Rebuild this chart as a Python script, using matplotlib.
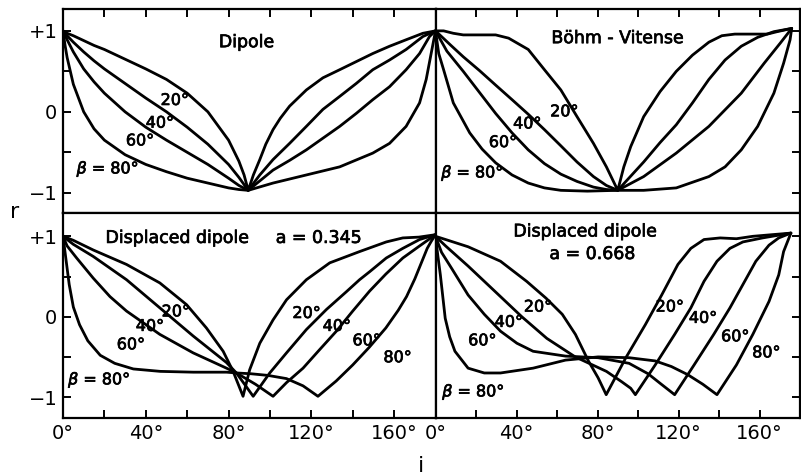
import matplotlib
matplotlib.use("Agg")
import matplotlib.pyplot as plt
import matplotlib.patheffects as pe

# -------------------------------------------------------
# values (i in degrees, r)
# -------------------------------------------------------

# Dipole
dip20_i = [0, 2, 5, 10, 15, 20, 30, 40, 50, 60, 70, 80, 85, 87.5, 89.5,
           92, 95.1, 98, 101.5, 105, 109.5, 117.6, 125.6, 133.7, 141.7, 149.7, 157.8, 165.8, 173.9, 180]
dip20_r = [1, 0.97, 0.94, 0.88, 0.82, 0.77, 0.65, 0.53, 0.40, 0.23, 0.0, -0.35, -0.61, -0.78, -0.97,
           -0.78, -0.59, -0.40, -0.22, -0.08, 0.07, 0.27, 0.42, 0.52, 0.62, 0.72, 0.81, 0.89, 0.97, 1.0]
dip40_i = [0, 2, 5, 10, 15, 20, 30, 40, 50, 60, 70, 80, 85, 89.5,
           95.1, 101.5, 109.5, 117.6, 125.6, 133.7, 141.7, 149.7, 157.8, 165.8, 173.9, 180]
dip40_r = [1, 0.94, 0.86, 0.74, 0.63, 0.53, 0.35, 0.17, 0.0, -0.19, -0.40, -0.65, -0.81, -0.97,
           -0.78, -0.59, -0.39, -0.18, 0.03, 0.19, 0.35, 0.52, 0.64, 0.77, 0.93, 1.0]
dip60_i = [0, 2, 5, 10, 15, 20, 30, 40, 50, 60, 70, 80, 85, 89.5,
           101.5, 109.5, 117.6, 133.7, 141.7, 149.7, 157.8, 165.8, 172.3, 177.1, 180]
dip60_r = [1, 0.89, 0.74, 0.53, 0.37, 0.23, 0.0, -0.19, -0.35, -0.50, -0.65, -0.82, -0.91, -0.97,
           -0.72, -0.60, -0.47, -0.18, -0.02, 0.15, 0.31, 0.52, 0.72, 0.93, 1.0]
dip80_i = [0, 1, 2, 5, 10, 15, 20, 30, 40, 50, 60, 70, 80, 85, 89.5,
           101.5, 117.6, 133.7, 149.7, 157.8, 165.8, 172.3, 175.5, 177.9, 180]
dip80_r = [1, 0.82, 0.67, 0.34, 0.0, -0.21, -0.35, -0.53, -0.65, -0.74, -0.82, -0.88, -0.94, -0.96, -0.97,
           -0.88, -0.78, -0.68, -0.51, -0.39, -0.18, 0.11, 0.40, 0.72, 1.0]

# Böhm-Vitense
bv20_i = [0, 4, 8.8, 13.7, 21.7, 29.7, 36.1, 45.8, 53.8, 61.9, 69.9, 78.0, 84.4, 90.0,
          93.0, 96.4, 102.8, 110.9, 118.9, 126.9, 135.0, 141.4, 147.8, 155.9, 163.9, 168.7, 175.9]
bv20_r = [1.0, 1.0, 0.97, 0.95, 0.95, 0.95, 0.91, 0.77, 0.52, 0.27, -0.06, -0.39, -0.68, -0.97,
          -0.68, -0.43, -0.06, 0.25, 0.50, 0.70, 0.86, 0.94, 0.96, 0.96, 0.96, 0.99, 1.03]
bv40_i = [0, 7.2, 13.7, 21.7, 29.7, 37.8, 45.8, 53.8, 61.9, 69.9, 78.0, 84.4, 90.0,
          102.8, 110.9, 118.9, 126.9, 135.0, 143.0, 151.0, 159.1, 167.1, 175.9]
bv40_r = [1, 0.83, 0.68, 0.51, 0.33, 0.15, -0.03, -0.22, -0.42, -0.62, -0.80, -0.91, -0.97,
          -0.62, -0.38, -0.16, 0.11, 0.40, 0.64, 0.81, 0.92, 0.99, 1.03]
bv60_i = [0, 5.6, 13.7, 21.7, 29.7, 37.8, 45.8, 53.8, 61.9, 69.9, 78.0, 84.4, 90.0,
          102.8, 118.9, 135.0, 151.0, 162.3, 170.3, 175.9]
bv60_r = [1, 0.75, 0.50, 0.24, -0.02, -0.26, -0.47, -0.64, -0.77, -0.86, -0.93, -0.96, -0.97,
          -0.80, -0.51, -0.18, 0.23, 0.60, 0.85, 1.03]
bv80_i = [0, 1.6, 4.0, 8.8, 16.9, 23.0, 29.7, 37.8, 45.8, 53.8, 61.9, 75.0, 90.0,
          102.8, 118.9, 135.0, 143.0, 151.0, 159.1, 167.1, 171.9, 175.1, 175.9]
bv80_r = [1, 0.72, 0.52, 0.11, -0.26, -0.46, -0.63, -0.78, -0.88, -0.94, -0.97, -0.98, -0.97,
          -0.97, -0.94, -0.80, -0.68, -0.47, -0.18, 0.23, 0.60, 0.89, 1.03]

# Displaced dipole a = 0.345
d1_20_i = [0, 5, 14.6, 30.7, 46.8, 59.7, 69.3, 77.4, 82.2, 87.0,
           90.2, 95.1, 101.5, 108.0, 117.6, 128.9, 143.3, 156.2, 164.2, 172.0, 180]
d1_20_r = [1, 0.95, 0.83, 0.65, 0.42, 0.15, -0.14, -0.43, -0.68, -0.99,
           -0.66, -0.33, -0.04, 0.21, 0.46, 0.67, 0.81, 0.93, 0.98, 0.99, 1.02]
d1_40_i = [0, 5, 14.6, 30.7, 46.8, 62.9, 79.0, 83.8, 88.0, 91.9,
           99.9, 108.0, 117.6, 127.3, 136.9, 143.3, 148.2, 156.2, 164.2, 172.3, 180]
d1_40_r = [1, 0.90, 0.75, 0.46, 0.11, -0.24, -0.57, -0.70, -0.85, -0.99,
           -0.70, -0.45, -0.16, 0.09, 0.31, 0.46, 0.56, 0.73, 0.85, 0.96, 1.02]
d1_60_i = [0, 2, 6.6, 14.6, 22.7, 30.7, 46.8, 62.9, 79.0, 83.8, 93.0, 101.5,
           108.0, 116.0, 124.0, 132.1, 140.0, 148.2, 156.0, 164.2, 172.3, 180]
d1_60_r = [1, 0.88, 0.73, 0.48, 0.25, 0.07, -0.22, -0.45, -0.64, -0.70, -0.84, -0.99,
           -0.82, -0.64, -0.41, -0.18, 0.07, 0.32, 0.53, 0.73, 0.88, 1.02]
d1_80_i = [0, 1.5, 3, 5, 8, 12, 18, 25, 34, 47, 63, 79, 84, 91, 99, 108, 116, 123.2,
           132, 140, 148, 156, 162, 166, 170, 173, 176, 178, 180]
d1_80_r = [1, 0.70, 0.40, 0.12, -0.10, -0.30, -0.48, -0.58, -0.65, -0.68, -0.69, -0.69, -0.70,
           -0.71, -0.73, -0.77, -0.86, -0.99,
           -0.80, -0.60, -0.38, -0.14, 0.08, 0.25, 0.47, 0.66, 0.85, 0.94, 1.02]

# Displaced dipole a = 0.668
d2_20_i = [0, 5, 16.1, 32.1, 45.0, 54.6, 62.6, 69.1, 75.5, 80.3, 84.3,
           94.0, 103.6, 111.7, 119.7, 126.1, 132.6, 140.6, 148.6, 156.7, 166.0, 175.5]
d2_20_r = [1, 0.96, 0.87, 0.69, 0.44, 0.23, 0.03, -0.22, -0.55, -0.76, -0.97,
           -0.51, -0.10, 0.27, 0.65, 0.85, 0.96, 0.98, 0.97, 1.0, 1.02, 1.04]
d2_40_i = [0, 5, 16.1, 32.1, 42.6, 55.0, 69.0, 84.4, 92.0, 96.4, 98.7,
           108.5, 118.1, 126.1, 132.6, 139.0, 145.4, 151.8, 161.5, 175.5]
d2_40_r = [1, 0.88, 0.63, 0.25, 0.0, -0.27, -0.50, -0.68, -0.81, -0.89, -0.97,
           -0.60, -0.22, 0.11, 0.44, 0.69, 0.85, 0.93, 0.98, 1.04]
d2_60_i = [0, 3, 8.0, 16.1, 24.1, 32.1, 40.2, 48.2, 64.2, 80.3, 95.6, 105.0, 111.0, 118.1,
           127.7, 137.4, 145.4, 151.8, 158.2, 164.7, 169.5, 175.5]
d2_60_r = [1, 0.80, 0.60, 0.27, 0.03, -0.18, -0.33, -0.43, -0.49, -0.51, -0.58, -0.71, -0.83, -0.97,
           -0.60, -0.22, 0.11, 0.40, 0.69, 0.89, 0.98, 1.04]
d2_80_i = [0, 1.2, 2.4, 4.8, 7.0, 9.6, 16.1, 24.1, 32.1, 48.2, 64.2, 80.3, 95.6, 108.5,
           116.5, 124.5, 132.0, 139.0, 148.6, 156.7, 164.7, 169.5, 171.9, 175.5]
d2_80_r = [1, 0.75, 0.52, -0.02, -0.25, -0.43, -0.64, -0.70, -0.70, -0.64, -0.54, -0.50, -0.51,
           -0.55, -0.62, -0.72, -0.84, -0.97, -0.60, -0.22, 0.19, 0.52, 0.81, 1.04]

x_ticks = [0, 40, 80, 120, 160]
x_ticklabels = ["0°", "40°", "80°", "120°", "160°"]
y_ticks = [-1, 0, 1]
y_ticklabels = ["\u22121", "0", "+1"]

# -------------------------------------------------------
# Layout (pixel boxes of the four panels)
# -------------------------------------------------------
W, H = 801, 476
fig = plt.figure(figsize=(W / 100, H / 100), dpi=100)
fig.patch.set_facecolor("white")


def panel(x0, y0, x1, y1):
    return fig.add_axes([x0 / W, 1 - y1 / H, (x1 - x0) / W, (y1 - y0) / H])


ax_dip = panel(63, 9, 435.5, 213)
ax_bv = panel(435.5, 9, 800, 213)
ax_d1 = panel(63, 213, 435.5, 418)
ax_d2 = panel(435.5, 213, 800, 418)

ax_dip.set_xlim(0, 180)
ax_d1.set_xlim(0, 180)
ax_bv.set_xlim(0, 176.2)
ax_d2.set_xlim(0, 176.2)
for a in (ax_dip, ax_bv):
    a.set_ylim(-1.25, 1.27)
for a in (ax_d1, ax_d2):
    a.set_ylim(-1.26, 1.29)


def style(a, top, bottom, left, right):
    a.set_xticks(x_ticks)
    a.set_xticks([20, 60, 100, 140, 180], minor=True)
    a.set_yticks(y_ticks)
    a.set_yticks([-0.5, 0.5], minor=True)
    a.set_xticklabels(x_ticklabels)
    a.set_yticklabels(y_ticklabels)
    a.tick_params(which="both", direction="in", length=6, width=1.4,
                  top=top, bottom=bottom, left=left, right=right,
                  labelbottom=bottom, labelleft=left, labeltop=False, labelright=False,
                  labelsize=14, pad=4)
    for s in a.spines.values():
        s.set_linewidth(1.6)


style(ax_dip, True, False, True, False)
style(ax_bv, True, False, False, True)
style(ax_d1, False, True, True, False)
style(ax_d2, False, True, False, True)

line_kw = dict(color="black", lw=2.0, solid_joinstyle="round", solid_capstyle="round")

for i, r in [(dip20_i, dip20_r), (dip40_i, dip40_r), (dip60_i, dip60_r), (dip80_i, dip80_r)]:
    ax_dip.plot(i, r, **line_kw)
for i, r in [(bv20_i, bv20_r), (bv40_i, bv40_r), (bv60_i, bv60_r), (bv80_i, bv80_r)]:
    ax_bv.plot(i, r, **line_kw)
for i, r in [(d1_20_i, d1_20_r), (d1_40_i, d1_40_r), (d1_60_i, d1_60_r), (d1_80_i, d1_80_r)]:
    ax_d1.plot(i, r, **line_kw)
for i, r in [(d2_20_i, d2_20_r), (d2_40_i, d2_40_r), (d2_60_i, d2_60_r), (d2_80_i, d2_80_r)]:
    ax_d2.plot(i, r, **line_kw)

# -------------------------------------------------------
# Texts
# -------------------------------------------------------
thick = [pe.withStroke(linewidth=0.5, foreground="black")]
title_kw = dict(fontsize=12.5, ha="center", va="center", path_effects=thick)
lab_kw = dict(fontsize=11.5, ha="center", va="center", path_effects=thick)
beta80 = r"$\beta$" + " = 80°"

ax_dip.text(88.8, 0.86, "Dipole", **title_kw)
ax_dip.text(54, 0.14, "20°", **lab_kw)
ax_dip.text(46.8, -0.14, "40°", **lab_kw)
ax_dip.text(37.2, -0.36, "60°", **lab_kw)
ax_dip.text(21.7, -0.70, beta80, **lab_kw)

ax_bv.text(90.1, 0.91, "Böhm - Vitense", **title_kw)
ax_bv.text(63.6, 0.0, "20°", **lab_kw)
ax_bv.text(45.3, -0.15, "40°", **lab_kw)
ax_bv.text(33.3, -0.38, "60°", **lab_kw)
ax_bv.text(18.3, -0.75, beta80, **lab_kw)

ax_d1.text(55.5, 0.98, "Displaced dipole", **title_kw)
ax_d1.text(123.5, 0.98, "a = 0.345", **title_kw)
ax_d1.text(54.5, 0.06, "20°", **lab_kw)
ax_d1.text(42, -0.12, "40°", **lab_kw)
ax_d1.text(32.8, -0.35, "60°", **lab_kw)
ax_d1.text(17.6, -0.78, beta80, **lab_kw)
ax_d1.text(117.7, 0.04, "20°", **lab_kw)
ax_d1.text(132.3, -0.12, "40°", **lab_kw)
ax_d1.text(146.7, -0.30, "60°", **lab_kw)
ax_d1.text(161.7, -0.51, "80°", **lab_kw)

ax_d2.text(74.2, 1.06, "Displaced dipole", **title_kw)
ax_d2.text(77.5, 0.78, "a = 0.668", **title_kw)
ax_d2.text(50.6, 0.12, "20°", **lab_kw)
ax_d2.text(36.2, -0.07, "40°", **lab_kw)
ax_d2.text(23.1, -0.30, "60°", **lab_kw)
ax_d2.text(18.8, -0.93, beta80, **lab_kw)
ax_d2.text(115.7, 0.12, "20°", **lab_kw)
ax_d2.text(132.1, -0.02, "40°", **lab_kw)
ax_d2.text(148.0, -0.25, "60°", **lab_kw)
ax_d2.text(163.4, -0.45, "80°", **lab_kw)

fig.text(15 / W, 1 - 212 / H, "r", fontsize=16, ha="center", va="center")
fig.text(421 / W, 1 - 466 / H, "i", fontsize=16, ha="center", va="center")

fig.savefig("out.png", dpi=100, facecolor="white")
